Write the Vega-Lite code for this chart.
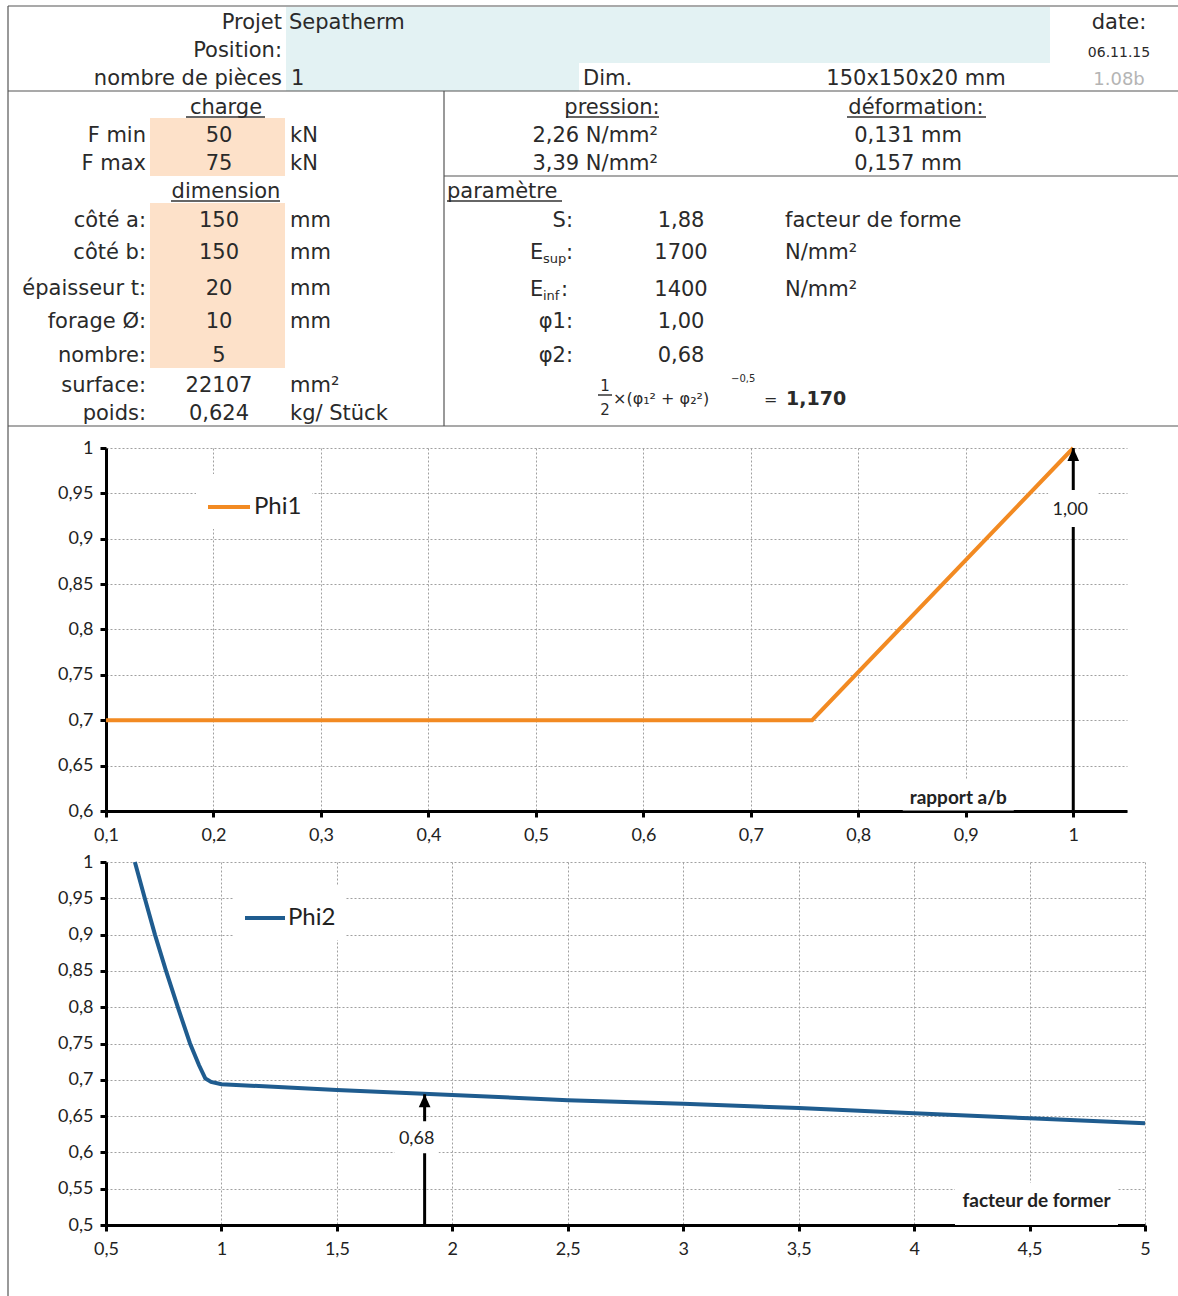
{
  "$schema": "https://vega.github.io/schema/vega-lite/v6.json",
  "padding": 0,
  "spacing": 51,
  "bounds": "flush",
  "align": "each",
  "background": "white",
  "resolve": {"scale": {"color": "independent"}, "legend": {"color": "independent"}},
  "config": {
    "view": {"stroke": null},
    "font": "Lato",
    "axis": {
      "grid": true, "gridColor": "#a0a0a0", "gridDash": [2, 2], "gridWidth": 1,
      "domainColor": "#000000", "domainWidth": 3, "tickColor": "#000000", "tickWidth": 3, "tickSize": 6,
      "labelFont": "Lato", "labelFontSize": 18, "labelColor": "#222222", "labelPadding": 9,
      "labelOverlap": false, "labelFlush": false, "tickCount": 30
    },
    "axisY": {"labelPadding": 7}
  },
  "datasets": {
    "hdr_bg": [{"x": 0, "x2": 1178, "y": 0, "y2": 426}],
    "hdr_cells": [
      {"x": 286, "x2": 1050, "y": 7, "y2": 63, "kind": "projet"},
      {"x": 286, "x2": 579, "y": 63, "y2": 91, "kind": "projet"},
      {"x": 150, "x2": 285, "y": 118, "y2": 176, "kind": "saisie"},
      {"x": 150, "x2": 285, "y": 203, "y2": 368, "kind": "saisie"}
    ],
    "hdr_lines": [
      {"x": 8, "x2": 1178, "y": 6, "y2": 6},
      {"x": 8, "x2": 1178, "y": 91, "y2": 91},
      {"x": 8, "x2": 1178, "y": 426, "y2": 426},
      {"x": 444, "x2": 444, "y": 91, "y2": 426},
      {"x": 444, "x2": 1178, "y": 176, "y2": 176},
      {"x": 8, "x2": 8, "y": 6, "y2": 1296}
    ],
    "hdr_under": [
      {"x": 186, "x2": 265, "y": 117},
      {"x": 171, "x2": 280, "y": 201},
      {"x": 566, "x2": 659, "y": 117},
      {"x": 847, "x2": 986, "y": 117},
      {"x": 447, "x2": 562, "y": 201},
      {"x": 598, "x2": 612, "y": 395}
    ],
    "hdr_right": [
      {"x": 282, "y": 21, "t": "Projet"},
      {"x": 282, "y": 49, "t": "Position:"},
      {"x": 282, "y": 77, "t": "nombre de pièces"},
      {"x": 146, "y": 134, "t": "F min"},
      {"x": 146, "y": 162, "t": "F max"},
      {"x": 146, "y": 219, "t": "côté a:"},
      {"x": 146, "y": 251, "t": "côté b:"},
      {"x": 146, "y": 287, "t": "épaisseur t:"},
      {"x": 146, "y": 320, "t": "forage Ø:"},
      {"x": 146, "y": 354, "t": "nombre:"},
      {"x": 146, "y": 384, "t": "surface:"},
      {"x": 146, "y": 412, "t": "poids:"},
      {"x": 658, "y": 134, "t": "2,26 N/mm²"},
      {"x": 658, "y": 162, "t": "3,39 N/mm²"},
      {"x": 573, "y": 219, "t": "S:"},
      {"x": 573, "y": 251, "t": ":"},
      {"x": 568, "y": 288, "t": ":"},
      {"x": 573, "y": 320, "t": "φ1:"},
      {"x": 573, "y": 354, "t": "φ2:"}
    ],
    "hdr_center": [
      {"x": 1119, "y": 21, "t": "date:"},
      {"x": 916, "y": 77, "t": "150x150x20 mm"},
      {"x": 226, "y": 106, "t": "charge"},
      {"x": 219, "y": 134, "t": "50"},
      {"x": 219, "y": 162, "t": "75"},
      {"x": 226, "y": 190, "t": "dimension"},
      {"x": 219, "y": 219, "t": "150"},
      {"x": 219, "y": 251, "t": "150"},
      {"x": 219, "y": 287, "t": "20"},
      {"x": 219, "y": 320, "t": "10"},
      {"x": 219, "y": 354, "t": "5"},
      {"x": 219, "y": 384, "t": "22107"},
      {"x": 219, "y": 412, "t": "0,624"},
      {"x": 612, "y": 106, "t": "pression:"},
      {"x": 916, "y": 106, "t": "déformation:"},
      {"x": 908, "y": 134, "t": "0,131 mm"},
      {"x": 908, "y": 162, "t": "0,157 mm"},
      {"x": 681, "y": 219, "t": "1,88"},
      {"x": 681, "y": 251, "t": "1700"},
      {"x": 681, "y": 288, "t": "1400"},
      {"x": 681, "y": 320, "t": "1,00"},
      {"x": 681, "y": 354, "t": "0,68"}
    ],
    "hdr_left": [
      {"x": 289, "y": 21, "t": "Sepatherm"},
      {"x": 291, "y": 77, "t": "1"},
      {"x": 583, "y": 77, "t": "Dim."},
      {"x": 290, "y": 134, "t": "kN"},
      {"x": 290, "y": 162, "t": "kN"},
      {"x": 290, "y": 219, "t": "mm"},
      {"x": 290, "y": 251, "t": "mm"},
      {"x": 290, "y": 287, "t": "mm"},
      {"x": 290, "y": 320, "t": "mm"},
      {"x": 290, "y": 384, "t": "mm²"},
      {"x": 290, "y": 412, "t": "kg/ Stück"},
      {"x": 447, "y": 190, "t": "paramètre"},
      {"x": 785, "y": 219, "t": "facteur de forme"},
      {"x": 785, "y": 251, "t": "N/mm²"},
      {"x": 785, "y": 288, "t": "N/mm²"},
      {"x": 530, "y": 251, "t": "E"},
      {"x": 530, "y": 288, "t": "E"}
    ],
    "hdr_sub": [
      {"x": 543, "y": 257, "t": "sup"},
      {"x": 543, "y": 294, "t": "inf"}
    ],
    "hdr_date": [{"x": 1119, "y": 51, "t": "06.11.15"}],
    "hdr_ver": [{"x": 1119, "y": 78, "t": "1.08b"}],
    "hdr_frac": [
      {"x": 605, "y": 385, "t": "1"},
      {"x": 605, "y": 409, "t": "2"}
    ],
    "hdr_formula": [
      {"x": 613, "y": 398, "t": "×(φ₁² + φ₂²)"},
      {"x": 764, "y": 399, "t": "="}
    ],
    "hdr_exp": [{"x": 731, "y": 378, "t": "−0,5"}],
    "hdr_result": [{"x": 786, "y": 398, "t": "1,170"}],
    "phi1": [
      {"rapport": 0.1, "phi": 0.7},
      {"rapport": 0.757, "phi": 0.7},
      {"rapport": 1.0, "phi": 1.0}
    ],
    "phi2": [
      {"facteur": 0.625, "phi": 1.0},
      {"facteur": 0.668, "phi": 0.95},
      {"facteur": 0.712, "phi": 0.9},
      {"facteur": 0.76, "phi": 0.85},
      {"facteur": 0.811, "phi": 0.8},
      {"facteur": 0.864, "phi": 0.75},
      {"facteur": 0.903, "phi": 0.72},
      {"facteur": 0.93, "phi": 0.702},
      {"facteur": 0.955, "phi": 0.697},
      {"facteur": 1.0, "phi": 0.694},
      {"facteur": 1.5, "phi": 0.686},
      {"facteur": 2.0, "phi": 0.679},
      {"facteur": 2.5, "phi": 0.672},
      {"facteur": 3.0, "phi": 0.667},
      {"facteur": 3.5, "phi": 0.661},
      {"facteur": 4.0, "phi": 0.654},
      {"facteur": 4.5, "phi": 0.647},
      {"facteur": 5.0, "phi": 0.64}
    ],
    "ann1": [{"rapport": 1.0, "phi": 1.0, "label": "1,00"}],
    "ann1title": [{"rapport": 0.893, "phi": 0.6, "label": "rapport a/b"}],
    "ann2": [{"facteur": 1.88, "phi": 0.68, "label": "0,68"}],
    "ann2title": [{"facteur": 4.53, "phi": 0.5, "label": "facteur de former"}]
  },
  "vconcat": [
    {
      "width": 1072,
      "height": 397,
      "layer": [
        {
          "data": {"name": "hdr_bg"},
          "mark": {"type": "rect", "color": "white"},
          "encoding": {
            "x": {"field": "x", "type": "quantitative", "scale": {"domain": [106, 1178], "nice": false, "zero": false}, "axis": null},
            "x2": {"field": "x2"},
            "y": {"field": "y", "type": "quantitative", "scale": {"domain": [0, 397], "nice": false, "zero": false, "reverse": true}, "axis": null},
            "y2": {"field": "y2"}
          }
        },
        {
          "data": {"name": "hdr_cells"},
          "mark": {"type": "rect", "opacity": 1},
          "encoding": {
            "x": {"field": "x", "type": "quantitative", "axis": null},
            "x2": {"field": "x2"},
            "y": {"field": "y", "type": "quantitative", "axis": null},
            "y2": {"field": "y2"},
            "color": {"field": "kind", "type": "nominal", "scale": {"domain": ["projet", "saisie"], "range": ["#e3f2f3", "#fde1c9"]}, "legend": null}
          }
        },
        {
          "data": {"name": "hdr_lines"},
          "mark": {"type": "rule", "color": "#555555", "strokeWidth": 1.2},
          "encoding": {
            "x": {"field": "x", "type": "quantitative", "axis": null},
            "x2": {"field": "x2"},
            "y": {"field": "y", "type": "quantitative", "axis": null},
            "y2": {"field": "y2"}
          }
        },
        {
          "data": {"name": "hdr_under"},
          "mark": {"type": "rule", "color": "#333333", "strokeWidth": 1.5},
          "encoding": {
            "x": {"field": "x", "type": "quantitative", "axis": null},
            "x2": {"field": "x2"},
            "y": {"field": "y", "type": "quantitative", "axis": null}
          }
        },
        {
          "data": {"name": "hdr_right"},
          "mark": {"type": "text", "align": "right", "baseline": "middle", "dy": 2, "font": "DejaVu Sans", "fontSize": 21, "color": "#2a2a2a"},
          "encoding": {
            "x": {"field": "x", "type": "quantitative", "axis": null},
            "y": {"field": "y", "type": "quantitative", "axis": null},
            "text": {"field": "t"}
          }
        },
        {
          "data": {"name": "hdr_center"},
          "mark": {"type": "text", "align": "center", "baseline": "middle", "dy": 2, "font": "DejaVu Sans", "fontSize": 21, "color": "#2a2a2a"},
          "encoding": {
            "x": {"field": "x", "type": "quantitative", "axis": null},
            "y": {"field": "y", "type": "quantitative", "axis": null},
            "text": {"field": "t"}
          }
        },
        {
          "data": {"name": "hdr_left"},
          "mark": {"type": "text", "align": "left", "baseline": "middle", "dy": 2, "font": "DejaVu Sans", "fontSize": 21, "color": "#2a2a2a"},
          "encoding": {
            "x": {"field": "x", "type": "quantitative", "axis": null},
            "y": {"field": "y", "type": "quantitative", "axis": null},
            "text": {"field": "t"}
          }
        },
        {
          "data": {"name": "hdr_sub"},
          "mark": {"type": "text", "align": "left", "baseline": "middle", "dy": 2, "font": "DejaVu Sans", "fontSize": 13, "color": "#2a2a2a"},
          "encoding": {
            "x": {"field": "x", "type": "quantitative", "axis": null},
            "y": {"field": "y", "type": "quantitative", "axis": null},
            "text": {"field": "t"}
          }
        },
        {
          "data": {"name": "hdr_date"},
          "mark": {"type": "text", "align": "center", "baseline": "middle", "dy": 2, "font": "DejaVu Sans", "fontSize": 14, "color": "#2a2a2a"},
          "encoding": {
            "x": {"field": "x", "type": "quantitative", "axis": null},
            "y": {"field": "y", "type": "quantitative", "axis": null},
            "text": {"field": "t"}
          }
        },
        {
          "data": {"name": "hdr_ver"},
          "mark": {"type": "text", "align": "center", "baseline": "middle", "dy": 2, "font": "DejaVu Sans", "fontSize": 18, "color": "#b4b4b4"},
          "encoding": {
            "x": {"field": "x", "type": "quantitative", "axis": null},
            "y": {"field": "y", "type": "quantitative", "axis": null},
            "text": {"field": "t"}
          }
        },
        {
          "data": {"name": "hdr_frac"},
          "mark": {"type": "text", "align": "center", "baseline": "middle", "dy": 1, "font": "DejaVu Sans", "fontSize": 15, "color": "#2a2a2a"},
          "encoding": {
            "x": {"field": "x", "type": "quantitative", "axis": null},
            "y": {"field": "y", "type": "quantitative", "axis": null},
            "text": {"field": "t"}
          }
        },
        {
          "data": {"name": "hdr_formula"},
          "mark": {"type": "text", "align": "left", "baseline": "middle", "dy": 1, "font": "DejaVu Sans", "fontSize": 16, "color": "#2a2a2a"},
          "encoding": {
            "x": {"field": "x", "type": "quantitative", "axis": null},
            "y": {"field": "y", "type": "quantitative", "axis": null},
            "text": {"field": "t"}
          }
        },
        {
          "data": {"name": "hdr_exp"},
          "mark": {"type": "text", "align": "left", "baseline": "middle", "dy": 1, "font": "DejaVu Sans", "fontSize": 10, "color": "#2a2a2a"},
          "encoding": {
            "x": {"field": "x", "type": "quantitative", "axis": null},
            "y": {"field": "y", "type": "quantitative", "axis": null},
            "text": {"field": "t"}
          }
        },
        {
          "data": {"name": "hdr_result"},
          "mark": {"type": "text", "align": "left", "baseline": "middle", "dy": 1, "font": "DejaVu Sans", "fontSize": 19, "fontWeight": "bold", "color": "#2a2a2a"},
          "encoding": {
            "x": {"field": "x", "type": "quantitative", "axis": null},
            "y": {"field": "y", "type": "quantitative", "axis": null},
            "text": {"field": "t"}
          }
        }
      ]
    },
    {
      "width": 1021,
      "height": 363,
      "layer": [
        {
          "data": {"name": "phi1"},
          "mark": {"type": "line", "strokeWidth": 4},
          "encoding": {
            "x": {"field": "rapport", "type": "quantitative", "title": null,
                  "scale": {"domain": [0.1, 1.05], "nice": false, "zero": false},
                  "axis": {"values": [0.1, 0.2, 0.3, 0.4, 0.5, 0.6, 0.7, 0.8, 0.9, 1.0], "tickCount": 30,
                           "labelExpr": "replace(format(datum.value, '.1~f'), '.', ',')"}},
            "y": {"field": "phi", "type": "quantitative", "title": null,
                  "scale": {"domain": [0.6, 1.0], "nice": false, "zero": false},
                  "axis": {"values": [0.6, 0.65, 0.7, 0.75, 0.8, 0.85, 0.9, 0.95, 1.0], "tickCount": 30,
                           "labelExpr": "replace(format(datum.value, '.2~f'), '.', ',')"}},
            "color": {"datum": "Phi1", "type": "nominal",
                      "scale": {"domain": ["Phi1"], "range": ["#f28a22"]},
                      "legend": {"title": null, "orient": "none", "legendX": 90, "legendY": 26,
                                 "fillColor": "white", "padding": 10,
                                 "symbolType": "stroke", "symbolSize": 1764, "symbolStrokeWidth": 4,
                                 "labelFont": "Lato", "labelFontSize": 24, "labelColor": "#222222", "labelOffset": 2}}
          }
        },
        {
          "data": {"name": "ann1"},
          "mark": {"type": "rule", "color": "black", "strokeWidth": 3},
          "encoding": {
            "x": {"field": "rapport", "type": "quantitative"},
            "y": {"field": "phi", "type": "quantitative"},
            "y2": {"datum": 0.6}
          }
        },
        {
          "data": {"name": "ann1"},
          "mark": {"type": "point", "shape": "M0,-1L0.9,1L-0.9,1Z", "size": 169, "filled": true, "opacity": 1, "color": "black", "strokeWidth": 0, "yOffset": 6.5},
          "encoding": {
            "x": {"field": "rapport", "type": "quantitative"},
            "y": {"field": "phi", "type": "quantitative"}
          }
        },
        {
          "data": {"name": "ann1"},
          "mark": {"type": "point", "shape": "M-1,-0.74H1V0.74H-1Z", "size": 2500, "filled": true, "opacity": 1, "color": "white", "strokeWidth": 0, "yOffset": 60.5},
          "encoding": {
            "x": {"field": "rapport", "type": "quantitative"},
            "y": {"field": "phi", "type": "quantitative"}
          }
        },
        {
          "data": {"name": "ann1"},
          "mark": {"type": "text", "font": "Lato", "fontSize": 18, "color": "#222222", "align": "center", "baseline": "middle", "dx": -3, "dy": 62},
          "encoding": {
            "x": {"field": "rapport", "type": "quantitative"},
            "y": {"field": "phi", "type": "quantitative"},
            "text": {"field": "label"}
          }
        },
        {
          "data": {"name": "ann1title"},
          "mark": {"type": "point", "shape": "M-1,-0.28H1V0.28H-1Z", "size": 12321, "filled": true, "opacity": 1, "color": "white", "strokeWidth": 0, "yOffset": -16},
          "encoding": {
            "x": {"field": "rapport", "type": "quantitative"},
            "y": {"field": "phi", "type": "quantitative"}
          }
        },
        {
          "data": {"name": "ann1title"},
          "mark": {"type": "text", "font": "Lato", "fontSize": 19, "fontWeight": "bold", "color": "#222222", "align": "center", "baseline": "middle", "dy": -13},
          "encoding": {
            "x": {"field": "rapport", "type": "quantitative"},
            "y": {"field": "phi", "type": "quantitative"},
            "text": {"field": "label"}
          }
        }
      ]
    },
    {
      "width": 1039,
      "height": 363,
      "layer": [
        {
          "data": {"name": "phi2"},
          "mark": {"type": "line", "strokeWidth": 4},
          "encoding": {
            "x": {"field": "facteur", "type": "quantitative", "title": null,
                  "scale": {"domain": [0.5, 5], "nice": false, "zero": false},
                  "axis": {"values": [0.5, 1, 1.5, 2, 2.5, 3, 3.5, 4, 4.5, 5], "tickCount": 30,
                           "labelExpr": "replace(format(datum.value, '.1~f'), '.', ',')"}},
            "y": {"field": "phi", "type": "quantitative", "title": null,
                  "scale": {"domain": [0.5, 1.0], "nice": false, "zero": false},
                  "axis": {"values": [0.5, 0.55, 0.6, 0.65, 0.7, 0.75, 0.8, 0.85, 0.9, 0.95, 1.0], "tickCount": 30,
                           "labelExpr": "replace(format(datum.value, '.2~f'), '.', ',')"}},
            "color": {"datum": "Phi2", "type": "nominal",
                      "scale": {"domain": ["Phi2"], "range": ["#1f5c8f"]},
                      "legend": {"title": null, "orient": "none", "legendX": 127, "legendY": 24,
                                 "fillColor": "white", "padding": 10,
                                 "symbolType": "stroke", "symbolSize": 1600, "symbolStrokeWidth": 4,
                                 "labelFont": "Lato", "labelFontSize": 24, "labelColor": "#222222", "labelOffset": 1}}
          }
        },
        {
          "data": {"name": "ann2"},
          "mark": {"type": "rule", "color": "black", "strokeWidth": 3},
          "encoding": {
            "x": {"field": "facteur", "type": "quantitative"},
            "y": {"field": "phi", "type": "quantitative"},
            "y2": {"datum": 0.5}
          }
        },
        {
          "data": {"name": "ann2"},
          "mark": {"type": "point", "shape": "M0,-1L0.9,1L-0.9,1Z", "size": 169, "filled": true, "opacity": 1, "color": "black", "strokeWidth": 0, "yOffset": 6.5},
          "encoding": {
            "x": {"field": "facteur", "type": "quantitative"},
            "y": {"field": "phi", "type": "quantitative"}
          }
        },
        {
          "data": {"name": "ann2"},
          "mark": {"type": "point", "shape": "M-1,-0.727H1V0.727H-1Z", "size": 1936, "filled": true, "opacity": 1, "color": "white", "strokeWidth": 0, "xOffset": -8, "yOffset": 43},
          "encoding": {
            "x": {"field": "facteur", "type": "quantitative"},
            "y": {"field": "phi", "type": "quantitative"}
          }
        },
        {
          "data": {"name": "ann2"},
          "mark": {"type": "text", "font": "Lato", "fontSize": 18, "color": "#222222", "align": "center", "baseline": "middle", "dx": -8, "dy": 45},
          "encoding": {
            "x": {"field": "facteur", "type": "quantitative"},
            "y": {"field": "phi", "type": "quantitative"},
            "text": {"field": "label"}
          }
        },
        {
          "data": {"name": "ann2title"},
          "mark": {"type": "point", "shape": "M-1,-0.258H1V0.258H-1Z", "size": 26569, "filled": true, "opacity": 1, "color": "white", "strokeWidth": 0, "yOffset": -21},
          "encoding": {
            "x": {"field": "facteur", "type": "quantitative"},
            "y": {"field": "phi", "type": "quantitative"}
          }
        },
        {
          "data": {"name": "ann2title"},
          "mark": {"type": "text", "font": "Lato", "fontSize": 19, "fontWeight": "bold", "color": "#222222", "align": "center", "baseline": "middle", "dy": -24},
          "encoding": {
            "x": {"field": "facteur", "type": "quantitative"},
            "y": {"field": "phi", "type": "quantitative"},
            "text": {"field": "label"}
          }
        }
      ]
    }
  ]
}
